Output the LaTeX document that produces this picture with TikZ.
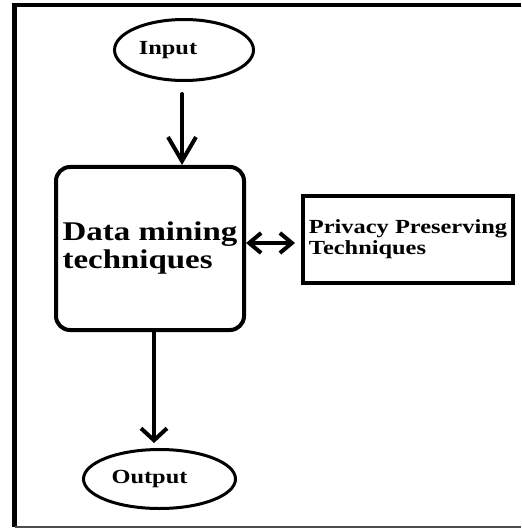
\documentclass[tikz,border=0pt]{standalone}
\usepackage{fontspec}
\newfontfamily\flowfont{Liberation Serif}[FakeStretch=1.22,BoldFeatures={FakeStretch=1.22}]
\usetikzlibrary{shapes.geometric,arrows.meta}

\tikzset{
  term/.style={ellipse,draw,line width=3pt,inner sep=0pt},
  termtext/.style={font=\flowfont\bfseries\fontsize{20}{21}\selectfont},
  procbox/.style={draw,line width=4pt,align=left,inner sep=0pt},
  flow/.style={line width=4pt,line cap=round}
}

\begin{document}
\begin{tikzpicture}[x=1pt,y=-1pt]
    \useasboundingbox (0,0) rectangle (521,529);
    % outer frame, open on the right
    \draw [line width=4.5pt] (521,5) -- (14.5,5) -- (14.5,527);
    \draw [line width=1.5pt, black!70] (14.5,527) -- (521,527);

    \node [term, minimum width=139pt, minimum height=61pt,
           label={[termtext, xshift=-16pt]center:Input}] (input) at (184,50) {};
    \node [procbox, rounded corners=14pt, minimum width=188pt, minimum height=163pt,
           font=\flowfont\bfseries\fontsize{27}{28}\selectfont] (mining) at (150,248.5)
           {Data mining\\techniques};
    \node [procbox, minimum width=210pt, minimum height=87pt,
           font=\flowfont\bfseries\fontsize{20}{21}\selectfont] (privacy) at (408,239.5)
           {Privacy Preserving\\Techniques};
    \node [term, minimum width=152pt, minimum height=59pt,
           label={[termtext, xshift=-10pt]center:Output}] (output) at (159.5,479) {};

    \draw [flow, -{Straight Barb[length=24pt,width=28pt]}, shorten <=12pt]
        ([xshift=-2pt]input.south) -- ([xshift=-2pt]input.south |- mining.north);
    \draw [flow, {Straight Barb[length=12pt,width=20pt]}-{Straight Barb[length=12pt,width=20pt]},
           shorten >=6pt]
        ([yshift=5.5pt]mining.east) -- ([yshift=5.5pt]mining.east -| privacy.west);
    \draw [flow, -{Straight Barb[length=12pt,width=26pt]}, shorten >=5pt]
        ([xshift=4pt]mining.south) -- ([xshift=4pt]mining.south |- output.north);
\end{tikzpicture}
\end{document}
